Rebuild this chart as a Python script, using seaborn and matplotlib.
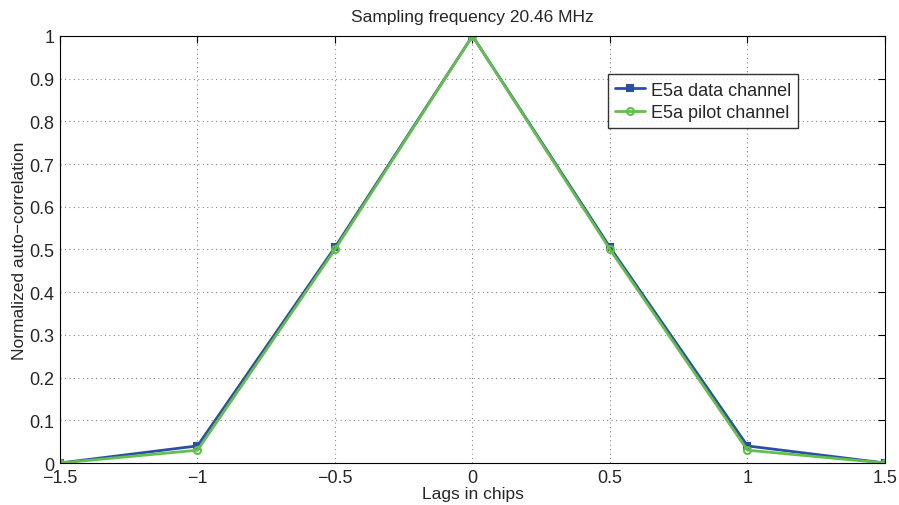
import numpy as np
import pandas as pd
import matplotlib
matplotlib.use("Agg")
import matplotlib.pyplot as plt
import seaborn as sns

lags = [-1.5, -1.0, -0.5, 0.0, 0.5, 1.0, 1.5]
data_channel = [0.0, 0.04, 0.505, 1.0, 0.505, 0.04, 0.0]
pilot_channel = [0.0, 0.03, 0.50, 1.0, 0.50, 0.03, 0.0]
series_names = ["E5a data channel", "E5a pilot channel"]

df = pd.concat([
    pd.DataFrame({"lag": lags, "corr": data_channel, "series": series_names[0]}),
    pd.DataFrame({"lag": lags, "corr": pilot_channel, "series": series_names[1]}),
])

sns.set_style("white")
plt.rcParams["font.family"] = ["Liberation Sans", "DejaVu Sans"]

fig = plt.figure(figsize=(8.99, 5.06), dpi=100)
ax = fig.add_axes([0.0667, 0.083, 0.9177, 0.844])

palette = {series_names[0]: "#2b4fa6", series_names[1]: "#62c04a"}
sns.lineplot(data=df, x="lag", y="corr", hue="series", style="series",
             markers={series_names[0]: "s", series_names[1]: "o"},
             dashes=False, palette=palette, linewidth=2, ax=ax, sort=False,
             legend=False)

# matlab-ish markers: small, edge in line colour
for ln in ax.lines:
    c = ln.get_color()
    ln.set_markeredgecolor(c)
    ln.set_markeredgewidth(1.5)
    if ln.get_marker() == "s":
        ln.set_markerfacecolor(c)
        ln.set_markersize(4)
    else:
        ln.set_markerfacecolor("none")
        ln.set_markersize(5)

ax.set_xlim(-1.5, 1.5)
ax.set_ylim(0, 1)
ax.set_xticks([-1.5, -1, -0.5, 0, 0.5, 1, 1.5])
ax.set_xticklabels(["\u22121.5", "\u22121", "\u22120.5", "0", "0.5", "1", "1.5"])
ax.set_yticks(np.arange(0, 1.01, 0.1))
ax.set_yticklabels(["0"] + [f"{v:.1f}" for v in np.arange(0.1, 0.95, 0.1)] + ["1"])
ax.grid(True, linestyle=(0, (1, 3)), color="#888888", linewidth=0.8)
ax.tick_params(direction="in", length=5, labelsize=13, top=True, right=True,
               color="black", pad=4)
for s in ax.spines.values():
    s.set_color("black")
    s.set_linewidth(0.8)

ax.set_xlabel("Lags in chips", fontsize=12.5, labelpad=0)
ax.set_ylabel("Normalized auto\u2212correlation", fontsize=12.5, labelpad=2)
ax.set_title("Sampling frequency 20.46 MHz", fontsize=12.5, pad=11)

leg = ax.legend(ax.lines[:2], series_names, loc="upper right",
                bbox_to_anchor=(0.895, 0.91), fontsize=13,
                frameon=True, fancybox=False, edgecolor="black",
                borderpad=0.4, handlelength=1.7, labelspacing=0.3,
                handletextpad=0.3, borderaxespad=0)
leg.get_frame().set_linewidth(1.0)

fig.savefig("out.png", dpi=100)
